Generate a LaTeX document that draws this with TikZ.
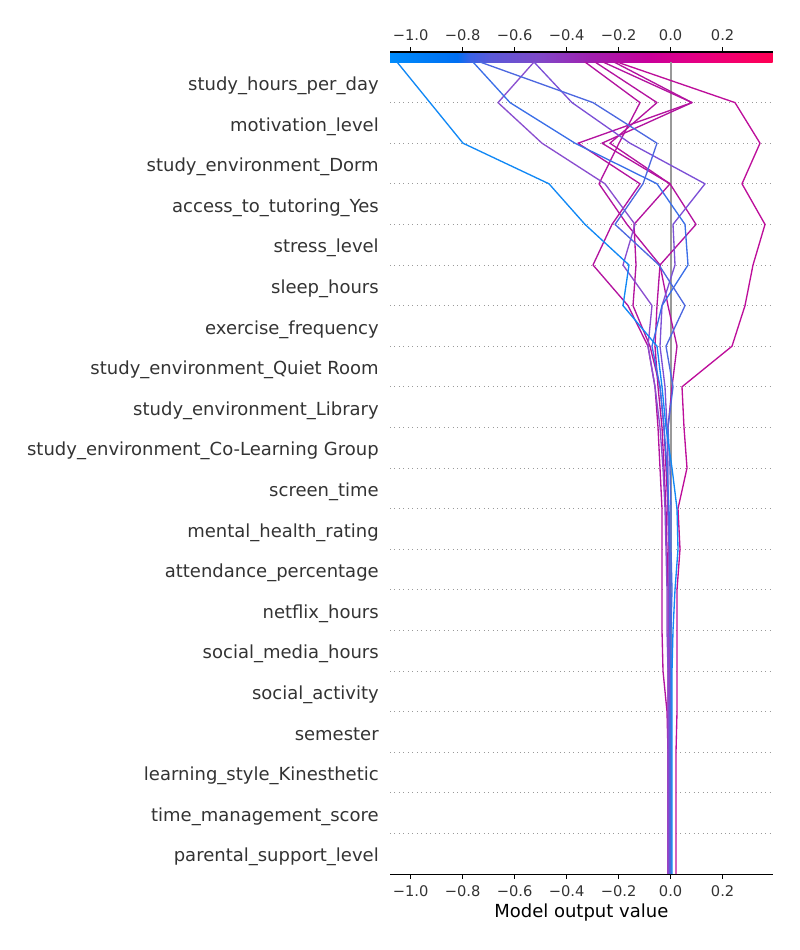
\documentclass[tikz,border=0pt]{standalone}
\usepackage{fontspec}
\setmainfont{DejaVu Sans}
\definecolor{txt}{HTML}{333333}
\definecolor{gridc}{HTML}{9A9A9A}
\definecolor{basec}{HTML}{999999}
\definecolor{cb0}{HTML}{008BFB}
\definecolor{cb1}{HTML}{006FF2}
\definecolor{cb2}{HTML}{3A62E6}
\definecolor{cb3}{HTML}{5A5AD8}
\definecolor{cb4}{HTML}{8048C8}
\definecolor{cb5}{HTML}{A020B0}
\definecolor{cb6}{HTML}{C8009A}
\definecolor{cb7}{HTML}{DC008C}
\definecolor{cb8}{HTML}{EC007A}
\definecolor{cb9}{HTML}{F80064}
\definecolor{cb10}{HTML}{FF0052}
\definecolor{cLB}{HTML}{1188F5}
\definecolor{cBA}{HTML}{3B6FE8}
\definecolor{cBB}{HTML}{4D68E0}
\definecolor{cPA}{HTML}{8A4ECF}
\definecolor{cPB}{HTML}{7C50D6}
\definecolor{cMA}{HTML}{B3139F}
\definecolor{cMB}{HTML}{BD0E9A}
\newcommand\dline[3]{\draw[dl,#1] (#2,62) \foreach \xx [count=\ii] in {#3} { -- (\xx,{62+40.6*\ii}) };}
\begin{document}
\begin{tikzpicture}[x=0.75pt,y=-0.75pt,
  lab/.style={anchor=base east,inner sep=0pt,text=txt,font=\fontsize{13.5}{16}\selectfont},
  tick/.style={anchor=base,inner sep=0pt,text=txt,font=\fontsize{11}{13}\selectfont},
  gridl/.style={gridc,line width=0.7pt,dash pattern=on 0.75pt off 2.6pt},
  dl/.style={line width=1pt,line join=round},
  axisl/.style={black,line width=0.8pt}]
\useasboundingbox (0,0) rectangle (800,950);
% colour bar
\shade[left color=cb0,right color=cb1] (390,52) rectangle (457.3,62);
\shade[left color=cb1,right color=cb2] (457,52) rectangle (470.3,62);
\shade[left color=cb2,right color=cb3] (470,52) rectangle (490.3,62);
\shade[left color=cb3,right color=cb4] (490,52) rectangle (540.3,62);
\shade[left color=cb4,right color=cb5] (540,52) rectangle (590.3,62);
\shade[left color=cb5,right color=cb6] (590,52) rectangle (647.3,62);
\shade[left color=cb6,right color=cb7] (647,52) rectangle (680.3,62);
\shade[left color=cb7,right color=cb8] (680,52) rectangle (713.3,62);
\shade[left color=cb8,right color=cb9] (713,52) rectangle (747.3,62);
\shade[left color=cb9,right color=cb10] (747,52) rectangle (772.7,62);
\draw[axisl] (390,52) -- (772.7,52);
% grid lines
\foreach \i in {1,...,19} \draw[gridl] (390,{62+40.6*\i}) -- (772.7,{62+40.6*\i});
% base value line
\draw[basec,line width=1.6pt] (670.6,62) -- (670.6,874);
% decision lines
\dline{cMA}{585}{640,619,599,627,660,657,655,658,662,664,666,667,668,668,668,668,668,668,668,668}
\dline{cMA}{595}{657,610,670,634,636,633,650,660,664,666,668,669,670,670,670,670,670,670,670,670}
\dline{cMA}{603}{692,578,640,612,593,628,648,655,658,660,662,662,662,662,663,667,668,668,668,668}
\dline{cMA}{614}{692,602,670,696,660,668,677,672,668,667,668,669,669,669,669,669,669,669,669,669}
\dline{cMB}{617}{735,760,742,765,753,745,732,682,684,687,678,680,677,677,677,677,676,676,676,676}
\dline{cPA}{534}{498,542,605,635,623,652,648,655,660,663,665,666,667,667,668,668,668,668,668,668}
\dline{cPB}{534}{572,630,705,673,675,662,660,665,667,668,668,669,669,669,669,669,669,669,669,669}
\dline{cBA}{473}{510,575,657,685,688,662,652,660,664,667,669,670,670,670,671,671,671,671,671,671}
\dline{cBB}{480}{593,657,643,615,659,685,666,673,668,670,671,671,672,671,671,670,670,670,670,670}
\dline{cLB}{397}{430,463,549,585,629,623,657,662,666,672,677,678,675,673,672,672,672,672,672,672}
% bottom axis
\draw[axisl] (390,874.3) -- (772.7,874.3);
\foreach \v/\t [count=\j] in {-1.0/−1.0,-0.8/−0.8,-0.6/−0.6,-0.4/−0.4,-0.2/−0.2,0.0/0.0,0.2/0.2} {
  \draw[axisl] ({670.6+260*\v},874.3) -- ({670.6+260*\v},879.3);
  \draw[axisl] ({670.6+260*\v},52) -- ({670.6+260*\v},47);
  \node[tick] (bt\j) at ({670.6+260*\v},896) {\t};
  \node[tick] (tt\j) at ({670.6+260*\v},40.5) {\t};
}
\node[anchor=base,inner sep=0pt,font=\fontsize{13.5}{16}\selectfont] (xlab) at (581.3,917.3) {Model output value};
% feature labels
\foreach \n [count=\i from 0] in {study\_hours\_per\_day,motivation\_level,study\_environment\_Dorm,access\_to\_tutoring\_Yes,stress\_level,sleep\_hours,exercise\_frequency,study\_environment\_Quiet Room,study\_environment\_Library,study\_environment\_Co-Learning Group,screen\_time,mental\_health\_rating,attendance\_percentage,netflix\_hours,social\_media\_hours,social\_activity,semester,learning\_style\_Kinesthetic,time\_management\_score,parental\_support\_level}
  \node[lab] (f\i) at (379,{90.5+40.6*\i}) {\n};
\end{tikzpicture}
\end{document}
